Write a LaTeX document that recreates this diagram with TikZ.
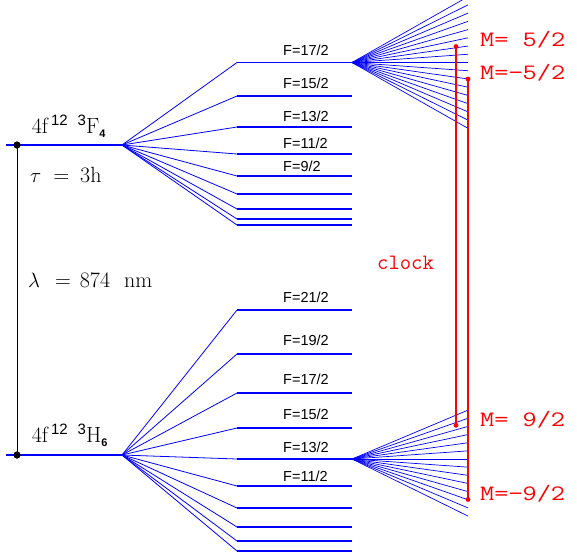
\documentclass[tikz,border=0pt]{standalone}
\usepackage{graphicx}
\usepackage{fontspec}
\newfontfamily\sfF{Liberation Sans}
\newfontfamily\txtF{Latin Modern Roman}
\newfontfamily\clkF{Latin Modern Mono}
\newcommand{\mylevlabel}[2]{%
  4f\hspace{3pt}\raisebox{8.5pt}{\sfF\fontsize{15}{15}\selectfont 12}\hspace{10pt}%
  \raisebox{8.5pt}{\sfF\fontsize{15}{15}\selectfont 3}#1%
  \raisebox{-4pt}{\sfF\bfseries\fontsize{11}{11}\selectfont #2}}
\newcommand{\mlab}[1]{\scalebox{1.25}[1]{#1}}
\begin{document}
\begin{tikzpicture}[x=1pt,y=-1pt]
\useasboundingbox (0,0) rectangle (577,558);
\tikzset{
  lev/.style={draw=blue, line width=1.1pt},
  mainlev/.style={draw=blue, line width=1.2pt},
  fan/.style={draw=blue, line width=0.8pt},
  zee/.style={draw=blue, line width=0.7pt},
  clk/.style={draw=red, line width=1.1pt},
  bdot/.style={circle, fill=black, inner sep=0pt, minimum size=7pt},
  rdot/.style={circle, fill=red, inner sep=0pt, minimum size=4.8pt},
  flab/.style={anchor=base west, inner sep=0pt, font=\sfF\fontsize{14.5}{15}\selectfont},
  txt/.style={anchor=base west, inner sep=0pt, font=\txtF\fontsize{22}{22}\selectfont},
  rlab/.style={anchor=base west, inner sep=0pt, text=red, font=\clkF\fontsize{22}{22}\selectfont},
}
\coordinate (Ustart) at (6,145);
\coordinate (U0) at (122,145);
\coordinate (Lstart) at (6,455);
\coordinate (L0) at (122,455);
% transition
\node[bdot] (dU) at (17,145) {};
\node[bdot] (dL) at (17,455) {};
\draw[line width=0.8pt] (dU.center) -- (dL.center);
% upper level 3F4
\foreach \yy [count=\i] in {62.5,96,127,154,176,194,209,219,225} {
  \coordinate (ua\i) at (237,\yy);
  \coordinate (ub\i) at (352,\yy);
  \draw[fan] (U0) -- (ua\i);
  \draw[lev] (ua\i) -- (ub\i);
}
\foreach \k in {-8,...,8} {
  \coordinate (zu\k) at (468,{62.5+8.23*\k});
  \draw[zee] (ub1) -- (zu\k);
}
% lower level 3H6
\foreach \yy [count=\i] in {310,354,393,428,459,486,508,527,541,551} {
  \coordinate (la\i) at (237,\yy);
  \coordinate (lb\i) at (352,\yy);
  \draw[fan] (L0) -- (la\i);
  \draw[lev] (la\i) -- (lb\i);
}
\foreach \k in {-6,...,7} {
  \coordinate (zl\k) at (468,{459+8.15*\k});
  \draw[zee] (lb5) -- (zl\k);
}
% clock transitions
\node[rdot] (mp52) at (456,46.5) {};
\node[rdot] (mp92) at (456,425.3) {};
\node[rdot] (mm52) at (468,79) {};
\node[rdot] (mm92) at (468,499.5) {};
\draw[clk] (mp52.center) -- (mp92.center);
\draw[clk] (mm52.center) -- (mm92.center);
% F labels upper
\node[flab] (fu1) at (283,55) {F=17/2};
\node[flab] (fu2) at (283,88) {F=15/2};
\node[flab] (fu3) at (283,121) {F=13/2};
\node[flab] (fu4) at (283,148) {F=11/2};
\node[flab] (fu5) at (283,171.5) {F=9/2};
% F labels lower
\node[flab] (fl1) at (283,302.3) {F=21/2};
\node[flab] (fl2) at (283,345.7) {F=19/2};
\node[flab] (fl3) at (283,384) {F=17/2};
\node[flab] (fl4) at (283,419) {F=15/2};
\node[flab] (fl5) at (283,452) {F=13/2};
\node[flab] (fl6) at (283,481) {F=11/2};
% level texts
\node[txt] (tU) at (31.7,133.5) {\mylevlabel{F}{4}};
\node[txt] (tL) at (31.7,442.7) {\mylevlabel{H}{6}};
\node[txt] (tau) at (30,182) {$\tau$\hspace{12pt}=\hspace{11pt}3h};
\node[txt] (lam) at (28,287.3) {$\lambda$\hspace{15pt}=\hspace{9pt}874\hspace{14pt}nm};
% red labels
\node[rlab] (clock) at (377,269.3) {clock};
\node[rlab] (lmp52) at (480,46.7) {\mlab{M=\hphantom{−}5/2}};
\node[rlab] (lmm52) at (480,79) {\mlab{M=−5/2}};
\node[rlab] (lmp92) at (480,426.7) {\mlab{M=\hphantom{−}9/2}};
\node[rlab] (lmm92) at (480,500.7) {\mlab{M=−9/2}};
% main levels drawn last
\draw[mainlev] (Ustart) -- (U0);
\draw[mainlev] (Lstart) -- (L0);
\fill[black] (dU.center) circle (3.5pt);
\fill[black] (dL.center) circle (3.5pt);
\end{tikzpicture}
\end{document}
